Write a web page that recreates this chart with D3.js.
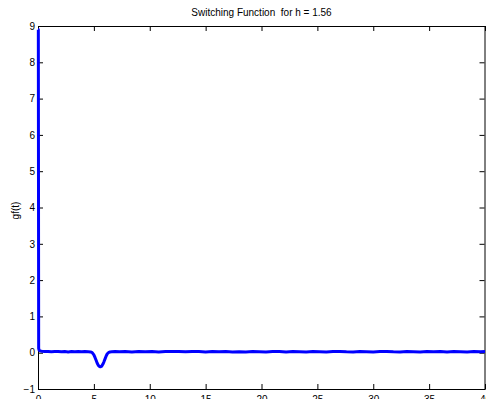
<!DOCTYPE html>
<html>
<head>
<meta charset="utf-8">
<script src="https://cdn.jsdelivr.net/npm/d3@7"></script>
<style>
  html, body { margin: 0; padding: 0; background: #fff; }
  svg { display: block; }
  text { font-family: Arial, "Liberation Sans", Helvetica, sans-serif; fill: #000; }
  .title { white-space: pre; }
</style>
</head>
<body>
<svg id="chart" width="486" height="399"></svg>
<script>
// Switching function samples: time (t) and value gf(t)
const tValues = [
  0, 0.03, 0.06, 0.1, 0.2, 0.35, 0.6, 0.9, 1.2, 1.5, 1.8, 2.1, 2.4, 2.7, 3.0, 3.3, 3.6, 3.9, 4.2, 4.5,
  4.7, 4.85, 5.0, 5.1, 5.2, 5.3, 5.4, 5.5, 5.6, 5.7, 5.8, 5.9, 6.0, 6.1, 6.2, 6.3, 6.45, 6.6, 6.9, 7.3,
  7.8, 8.4, 9.0, 9.6, 10.2, 10.8, 11.4, 12.0, 12.6, 13.2, 13.8, 14.4, 15.0, 15.6, 16.2, 16.8, 17.4, 18.0,
  18.6, 19.2, 19.8, 20.4, 21.0, 21.6, 22.2, 22.8, 23.4, 24.0, 24.6, 25.2, 25.8, 26.4, 27.0, 27.6, 28.2,
  28.8, 29.4, 30.0, 30.6, 31.2, 31.8, 32.4, 33.0, 33.6, 34.2, 34.8, 35.4, 36.0, 36.6, 37.2, 37.8, 38.4,
  39.0, 39.6, 40.0
];
const gValues = [
  8.9, 8.9, 0.12, 0.07, 0.05, 0.04, 0.03, 0.035, 0.025, 0.03, 0.035, 0.025, 0.03, 0.02, 0.03, 0.025, 0.03, 0.025, 0.03, 0.025,
  0.02, 0.0, -0.06, -0.13, -0.21, -0.29, -0.35, -0.38, -0.39, -0.37, -0.32, -0.25, -0.17, -0.09, -0.03, 0.0, 0.02, 0.025, 0.03, 0.025,
  0.03, 0.02, 0.03, 0.025, 0.03, 0.02, 0.03, 0.035, 0.03, 0.025, 0.035, 0.03, 0.02, 0.03, 0.025, 0.03, 0.02, 0.025,
  0.02, 0.03, 0.025, 0.02, 0.03, 0.035, 0.02, 0.03, 0.025, 0.02, 0.03, 0.025, 0.02, 0.03, 0.035, 0.025, 0.02,
  0.03, 0.025, 0.02, 0.03, 0.035, 0.025, 0.02, 0.03, 0.025, 0.02, 0.03, 0.025, 0.035, 0.02, 0.03, 0.025, 0.02,
  0.03, 0.025, 0.03
];
const xTicks = [0, 5, 10, 15, 20, 25, 30, 35, 40];
const yTicks = [-1, 0, 1, 2, 3, 4, 5, 6, 7, 8, 9];
const titleText = "Switching Function  for h = 1.56";
const yLabelText = "gf(t)";

const margin = { left: 38, right: 1, top: 26, bottom: 10 };
const W = 486, H = 399;
const svg = d3.select("#chart");

const x = d3.scaleLinear().domain([0, 40]).range([margin.left, W - margin.right]);
const y = d3.scaleLinear().domain([-1, 9]).range([H - margin.bottom, margin.top]);

// Plot frame with inward ticks on every side
const fmt = d3.format("d");
svg.append("g")
  .attr("transform", `translate(0,${y(-1)})`)
  .call(d3.axisBottom(x).tickValues(xTicks).tickFormat(fmt).tickSizeInner(-5).tickSizeOuter(0).tickPadding(7));
svg.append("g")
  .attr("transform", `translate(0,${y(9)})`)
  .call(d3.axisTop(x).tickValues(xTicks).tickFormat("").tickSizeInner(-5).tickSizeOuter(0));
svg.append("g")
  .attr("transform", `translate(${x(0)},0)`)
  .call(d3.axisLeft(y).tickValues(yTicks).tickFormat(fmt).tickSizeInner(-5).tickSizeOuter(0).tickPadding(3));
svg.append("g")
  .attr("transform", `translate(${x(40) - 0.5},0)`)
  .call(d3.axisRight(y).tickValues(yTicks).tickFormat("").tickSizeInner(-5).tickSizeOuter(0));

svg.selectAll(".domain").attr("stroke", "#000").attr("stroke-width", 1);
svg.selectAll(".tick line").attr("stroke", "#000");
svg.selectAll(".tick text").attr("font-size", 10).attr("fill", "#000");

// Curve
const line = d3.line()
  .x((d, i) => x(tValues[i]))
  .y(d => y(d));
svg.append("path")
  .datum(gValues)
  .attr("fill", "none")
  .attr("stroke", "#0000ff")
  .attr("stroke-width", 3)
  .attr("stroke-linejoin", "round")
  .attr("d", line);

// Title and axis label
svg.append("text")
  .attr("class", "title")
  .attr("x", (x(0) + x(40)) / 2)
  .attr("y", 16)
  .attr("text-anchor", "middle")
  .attr("font-size", 10)
  .text(titleText);

svg.append("text")
  .attr("transform", `translate(19,${(y(-1) + y(9)) / 2 + 3}) rotate(-90)`)
  .attr("text-anchor", "middle")
  .attr("font-size", 10)
  .text(yLabelText);
</script>
</body>
</html>
